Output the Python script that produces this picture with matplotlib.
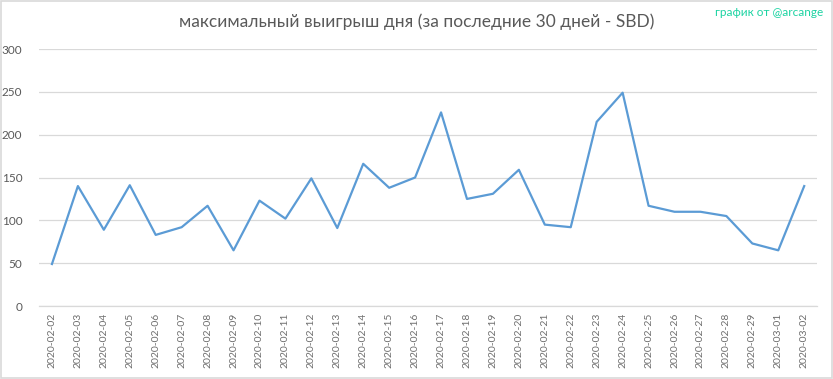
import matplotlib
import matplotlib.pyplot as plt
import pandas as pd
from matplotlib.patches import Rectangle

matplotlib.use("Agg")

dates = pd.date_range("2020-02-02", "2020-03-02", freq="D").strftime("%Y-%m-%d").tolist()
values = [49, 140, 89, 141, 83, 92, 117, 65, 123, 102,
          149, 91, 166, 138, 150, 226, 125, 131, 159, 95,
          92, 215, 249, 117, 110, 110, 105, 73, 65, 140]

title = "максимальный выигрыш дня (за последние 30 дней - SBD)"
credit = "график от @arcange"

text_color = "#595959"
line_color = "#5B9BD5"
grid_color = "#D9D9D9"

plt.rcParams["font.family"] = ["Lato", "DejaVu Sans"]

fig = plt.figure(figsize=(8.33, 3.79), dpi=100)
ax = fig.add_axes([0.0468, 0.1926, 0.9342, 0.6781])

x = range(len(dates))
ax.plot(x, values, color=line_color, linewidth=1.6)

ax.set_xlim(-0.5, len(dates) - 0.5)
ax.set_ylim(0, 300)
ax.set_yticks(range(0, 301, 50))
ax.set_xticks(list(x))
ax.set_xticklabels(dates, rotation=90, fontsize=7.5, color="#6E6E6E")
ax.tick_params(axis="y", labelsize=8.5, colors=text_color, length=0, pad=12)
ax.tick_params(axis="x", length=0, pad=5)

ax.grid(axis="y", color=grid_color, linewidth=0.9)
ax.set_axisbelow(True)
for side in ("top", "right", "left"):
    ax.spines[side].set_visible(False)
ax.spines["bottom"].set_color(grid_color)
ax.spines["bottom"].set_linewidth(0.9)

fig.text(0.5, 0.942, title, ha="center", va="center", fontsize=12.5, color=text_color)
fig.text(0.988, 0.966, credit, ha="right", va="center", fontsize=8.5, color="#1CD3A2")

fig.patches.append(Rectangle((0.001, 0.002), 0.998, 0.996, transform=fig.transFigure,
                             fill=False, edgecolor=grid_color, linewidth=1.2))

fig.savefig("out.png", dpi=100)
plt.close(fig)
